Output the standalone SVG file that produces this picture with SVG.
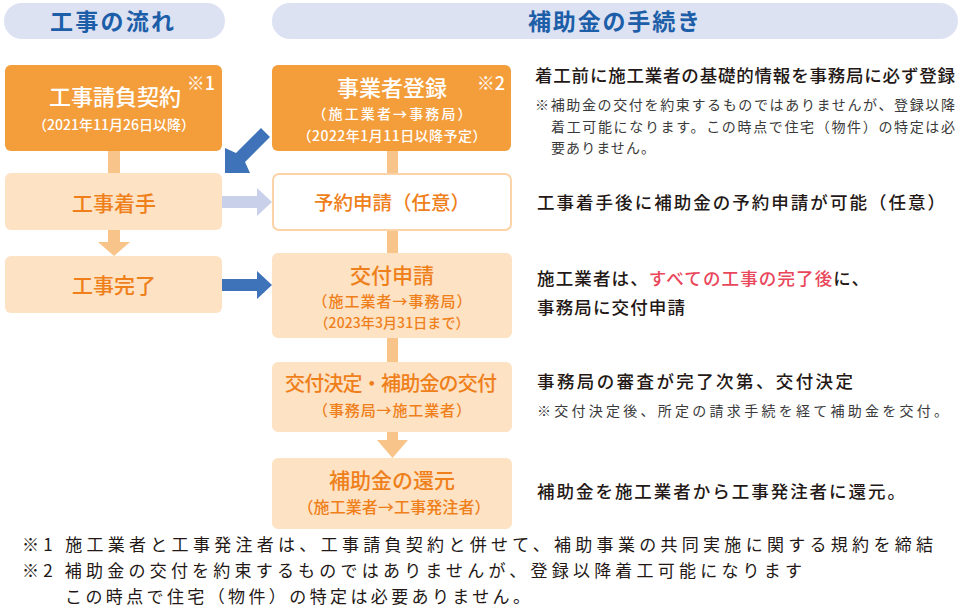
<svg xmlns="http://www.w3.org/2000/svg" width="960" height="610" viewBox="0 0 960 610">
<defs>
<style>
text{font-family:"Noto Sans CJK JP","Noto Sans",sans-serif;}
.hdr{fill:#dde2f3;}
.hdrt{fill:#1d5ea8;font-size:23px;font-weight:700;text-anchor:middle;}
.dark{fill:#f39d3b;}
.light{fill:#fde2c3;}
.outl{fill:#ffffff;stroke:#fcd3a6;stroke-width:2;}
.wt{fill:#ffffff;text-anchor:middle;font-weight:500;}
.ot{fill:#ef7f1a;text-anchor:middle;font-weight:500;}
.conn{fill:#f8c48a;}
.blue{fill:#3f73b9;}
.lblue{fill:#c9d0ea;}
.main{fill:#231815;font-size:17.5px;font-weight:500;}
.note{fill:#3a3a3a;font-size:14px;}
.red{fill:#e9475b;}
.foot{fill:#231815;font-size:17px;}
</style>
</defs>
<rect width="960" height="610" fill="#ffffff"/>

<g id="header-left"><rect class="hdr" x="4" y="3" width="221" height="36" rx="18"/><text class="hdrt" x="112" y="30" textLength="124" lengthAdjust="spacing">工事の流れ</text></g>
<g id="header-right"><rect class="hdr" x="272" y="3" width="686" height="36" rx="18"/><text class="hdrt" x="614" y="30" textLength="172" lengthAdjust="spacing">補助金の手続き</text></g>

<g id="connectors">
<rect class="conn" x="108" y="150" width="12" height="24"/>
<rect class="conn" x="108" y="230" width="12" height="13"/>
<polygon class="conn" points="98,242 130,242 114,256"/>
<rect class="conn" x="387" y="150" width="11" height="104"/>
<rect class="conn" x="387" y="337" width="11" height="26"/>
<rect class="conn" x="387" y="432" width="11" height="9"/>
<polygon class="conn" points="377,440 408,440 392.5,458"/>
<polygon class="blue" points="261,128 270,137 245,162 250,173 225,173 225,148 236,153"/>
<polygon class="lblue" points="222,196 257,196 257,188 272,202 257,216 257,208 222,208"/>
<polygon class="blue" points="222,279 257,279 257,271 272,285 257,299 257,291 222,291"/>
</g>

<g id="n-contract"><rect class="dark" x="5" y="65" width="217" height="86" rx="6"/>
<text class="wt" x="115" y="105" font-size="22">工事請負契約</text>
<text class="wt" x="114" y="130" font-size="14" textLength="162" lengthAdjust="spacing">（2021年11月26日以降）</text>
<text class="wt" x="201" y="90" font-size="18">※1</text></g>

<g id="n-register"><rect class="dark" x="272" y="65" width="239" height="86" rx="6"/>
<text class="wt" x="392" y="96" font-size="22">事業者登録</text>
<text class="wt" x="491" y="90" font-size="18">※2</text>
<text class="wt" x="392" y="119" font-size="14" textLength="159" lengthAdjust="spacing">（施工業者→事務局）</text>
<text class="wt" x="392" y="141" font-size="14" textLength="189" lengthAdjust="spacing">（2022年1月11日以降予定）</text></g>

<g id="n-start"><rect class="light" x="5" y="173" width="217" height="57" rx="6"/>
<text class="ot" x="114" y="211" font-size="21">工事着手</text></g>

<g id="n-complete"><rect class="light" x="5" y="256" width="217" height="57" rx="6"/>
<text class="ot" x="114" y="293" font-size="21">工事完了</text></g>

<g id="n-reserve"><rect class="outl" x="273" y="174" width="238" height="56" rx="6"/>
<text class="ot" x="392" y="210" font-size="19.5">予約申請（任意）</text></g>

<g id="n-apply"><rect class="light" x="272" y="253" width="240" height="85" rx="6"/>
<text class="ot" x="392" y="283" font-size="21">交付申請</text>
<text class="ot" x="392" y="307" font-size="15" textLength="159" lengthAdjust="spacing">（施工業者→事務局）</text>
<text class="ot" x="392" y="328" font-size="14" textLength="155" lengthAdjust="spacing">（2023年3月31日まで）</text></g>

<g id="n-decide"><rect class="light" x="272" y="362" width="240" height="70" rx="6"/>
<text class="ot" x="391" y="391" font-size="20" textLength="212" lengthAdjust="spacing">交付決定・補助金の交付</text>
<text class="ot" x="392" y="416" font-size="15" textLength="158" lengthAdjust="spacing">（事務局→施工業者）</text></g>

<g id="n-return"><rect class="light" x="272" y="458" width="240" height="71" rx="6"/>
<text class="ot" x="392" y="488" font-size="21">補助金の還元</text>
<text class="ot" x="394" y="513" font-size="16" textLength="193" lengthAdjust="spacing">（施工業者→工事発注者）</text></g>

<g id="desc">
<text class="main" x="535" y="82" textLength="420" lengthAdjust="spacing">着工前に施工業者の基礎的情報を事務局に必ず登録</text>
<text class="note" x="535" y="110" textLength="420" lengthAdjust="spacing">※補助金の交付を約束するものではありませんが、登録以降</text>
<text class="note" x="551" y="132" textLength="404" lengthAdjust="spacing">着工可能になります。この時点で住宅（物件）の特定は必</text>
<text class="note" x="551" y="153" textLength="104" lengthAdjust="spacing">要ありません。</text>
<text class="main" x="537" y="209" textLength="408" lengthAdjust="spacing">工事着手後に補助金の予約申請が可能（任意）</text>
<text class="main" x="537" y="285" textLength="332" lengthAdjust="spacing">施工業者は、<tspan class="red">すべての工事の完了後</tspan>に、</text>
<text class="main" x="537" y="314" textLength="148" lengthAdjust="spacing">事務局に交付申請</text>
<text class="main" x="537" y="388" textLength="316" lengthAdjust="spacing">事務局の審査が完了次第、交付決定</text>
<text class="note" x="537" y="416" textLength="411" lengthAdjust="spacing">※交付決定後、所定の請求手続を経て補助金を交付。</text>
<text class="main" x="537" y="498" textLength="368" lengthAdjust="spacing">補助金を施工業者から工事発注者に還元。</text>
</g>

<g id="footnotes">
<text class="foot" x="22" y="551" textLength="911" lengthAdjust="spacing">※1 施工業者と工事発注者は、工事請負契約と併せて、補助事業の共同実施に関する規約を締結</text>
<text class="foot" x="22" y="577" textLength="780" lengthAdjust="spacing">※2 補助金の交付を約束するものではありませんが、登録以降着工可能になります</text>
<text class="foot" x="65" y="603" textLength="465" lengthAdjust="spacing">この時点で住宅（物件）の特定は必要ありません。</text>
</g>
</svg>
